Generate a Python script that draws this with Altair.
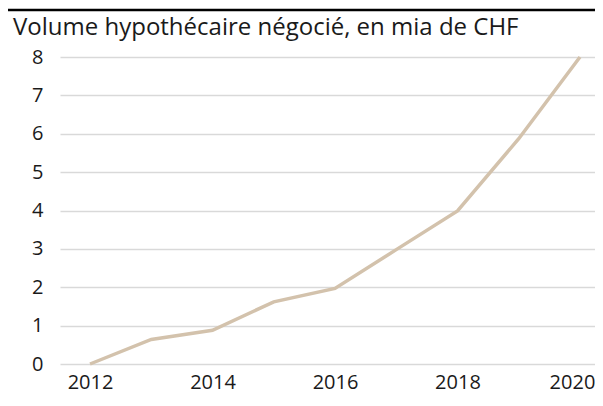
import altair as alt
import pandas as pd

years = [2012, 2013, 2014, 2015, 2016, 2017, 2018, 2019, 2020]
volume = [0.0, 0.64, 0.88, 1.62, 1.97, 2.98, 3.99, 5.87, 8.0]
x_ticks = [2012, 2014, 2016, 2018, 2020]
y_ticks = [0, 1, 2, 3, 4, 5, 6, 7, 8]
title_text = "Volume hypothécaire négocié, en mia de CHF"

df = pd.DataFrame({"year": years, "volume": volume})

W, H = 535, 307
FONT = "Open Sans"

line = alt.Chart(df).mark_line(color="#d3c2ac", strokeWidth=3.5).encode(
    x=alt.X("year:Q",
            scale=alt.Scale(domain=[2011.51, 2020.245], nice=False, zero=False),
            axis=alt.Axis(values=x_ticks, format="d", title=None, grid=False,
                          domain=False, ticks=False, labelFont=FONT,
                          labelFontSize=20, labelColor="#1a1a1a",
                          labelPadding=8,
                          labelOffset=alt.condition("datum.value == 2020",
                                                    alt.value(-8), alt.value(0)))),
    y=alt.Y("volume:Q",
            scale=alt.Scale(domain=[0, 8], nice=False),
            axis=alt.Axis(values=y_ticks, title=None, grid=True,
                          gridColor="#d9d9d9", gridWidth=1.6,
                          domain=False, ticks=False, labelFont=FONT,
                          labelFontSize=20, labelColor="#1a1a1a",
                          labelPadding=17)),
)

title = alt.Chart(pd.DataFrame({"t": [title_text]})).mark_text(
    align="left", baseline="alphabetic", font=FONT, fontSize=24,
    color="#1a1a1a"
).encode(x=alt.value(-47), y=alt.value(-22), text="t:N")

topline = alt.Chart(pd.DataFrame({"a": [0]})).mark_rule(
    color="#000000", strokeWidth=2.5
).encode(x=alt.value(-52), x2=alt.value(535), y=alt.value(-47))

chart = alt.layer(topline, title, line).properties(
    width=W, height=H,
    autosize=alt.AutoSizeParams(type="none"),
    padding={"left": 52, "top": 49, "right": 0, "bottom": 34},
).configure_view(stroke=None)

chart.save("out.html", embed_options={"renderer": "svg", "actions": False})
